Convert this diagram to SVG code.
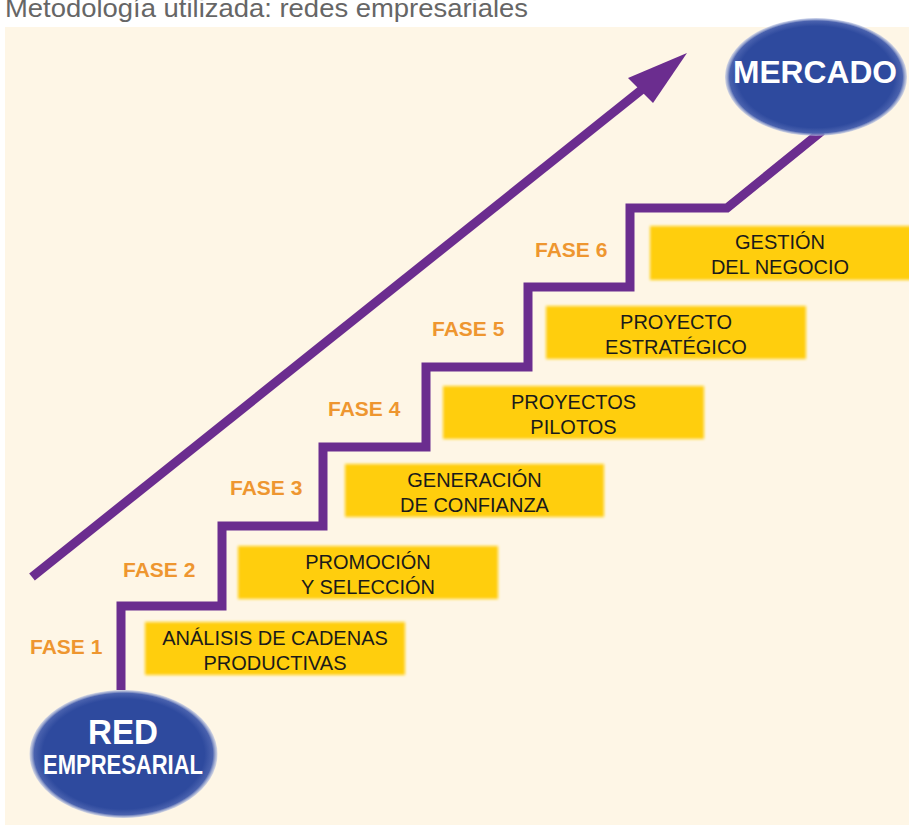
<svg xmlns="http://www.w3.org/2000/svg" width="909" height="826" viewBox="0 0 909 826">
<defs>
<style>
.title{font-family:"Liberation Sans",Arial,sans-serif;font-size:26px;fill:#666666}
.fase{font-family:"Liberation Sans",Arial,sans-serif;font-size:21px;font-weight:bold;fill:#EE9630}
.bt{font-family:"Liberation Sans",Arial,sans-serif;font-size:20px;fill:#1a1a1a;text-anchor:middle}
.et{font-family:"Liberation Sans",Arial,sans-serif;font-weight:bold;fill:#ffffff;text-anchor:middle}
.box{fill:#FFCE0A;filter:url(#soft)}
.line{fill:none;stroke:#6B2D8F;stroke-width:9}
</style>
<filter id="soft" x="-5%" y="-20%" width="110%" height="140%">
<feGaussianBlur stdDeviation="1.8"/>
</filter>
<radialGradient id="ell" cx="50%" cy="50%" r="50%">
<stop offset="0.86" stop-color="#2E4A9E"/>
<stop offset="0.95" stop-color="#4A62AE"/>
<stop offset="1" stop-color="#B8C2E2" stop-opacity="0.6"/>
</radialGradient>
</defs>
<rect x="5" y="27" width="904" height="798" fill="#FEF6E6"/>
<text class="title" x="5" y="17" textLength="523" lengthAdjust="spacingAndGlyphs">Metodología utilizada: redes empresariales</text>
<g id="connectors">
<path class="line" d="M121,690 V606 H222 V526 H323 V447 H426 V367 H528 V287 H630 V208 H727 L822,131"/>
<line class="line" x1="32" y1="577" x2="645" y2="87"/>
<polygon points="687,53 628,78 653,103" fill="#6B2D8F"/>
</g>
<g id="red-empresarial">
<ellipse cx="123.5" cy="754" rx="94" ry="64" fill="url(#ell)"/>
<text class="et" x="123" y="744" font-size="35" textLength="70" lengthAdjust="spacingAndGlyphs">RED</text>
<text class="et" x="123" y="774" font-size="27" textLength="160" lengthAdjust="spacingAndGlyphs">EMPRESARIAL</text>
</g>
<g id="mercado">
<ellipse cx="816" cy="77" rx="91" ry="59" fill="url(#ell)"/>
<text class="et" x="815" y="83" font-size="32" textLength="164" lengthAdjust="spacingAndGlyphs">MERCADO</text>
</g>
<g id="fase1">
<text class="fase" x="30" y="654">FASE 1</text>
<rect class="box" x="145" y="622" width="260" height="53"/>
<text class="bt" x="275" y="645">ANÁLISIS DE CADENAS</text>
<text class="bt" x="275" y="670">PRODUCTIVAS</text>
</g>
<g id="fase2">
<text class="fase" x="123" y="577">FASE 2</text>
<rect class="box" x="238" y="546" width="260" height="53"/>
<text class="bt" x="368" y="569">PROMOCIÓN</text>
<text class="bt" x="368" y="594">Y SELECCIÓN</text>
</g>
<g id="fase3">
<text class="fase" x="230" y="495">FASE 3</text>
<rect class="box" x="345" y="464" width="259" height="53"/>
<text class="bt" x="474.5" y="487">GENERACIÓN</text>
<text class="bt" x="474.5" y="512">DE CONFIANZA</text>
</g>
<g id="fase4">
<text class="fase" x="328" y="416">FASE 4</text>
<rect class="box" x="443" y="386" width="261" height="53"/>
<text class="bt" x="573.5" y="409">PROYECTOS</text>
<text class="bt" x="573.5" y="434">PILOTOS</text>
</g>
<g id="fase5">
<text class="fase" x="432" y="336">FASE 5</text>
<rect class="box" x="546" y="306" width="260" height="53"/>
<text class="bt" x="676" y="329">PROYECTO</text>
<text class="bt" x="676" y="354">ESTRATÉGICO</text>
</g>
<g id="fase6">
<text class="fase" x="535" y="257">FASE 6</text>
<rect class="box" x="650" y="226" width="262" height="54"/>
<text class="bt" x="780" y="249">GESTIÓN</text>
<text class="bt" x="780" y="274">DEL NEGOCIO</text>
</g>
</svg>
